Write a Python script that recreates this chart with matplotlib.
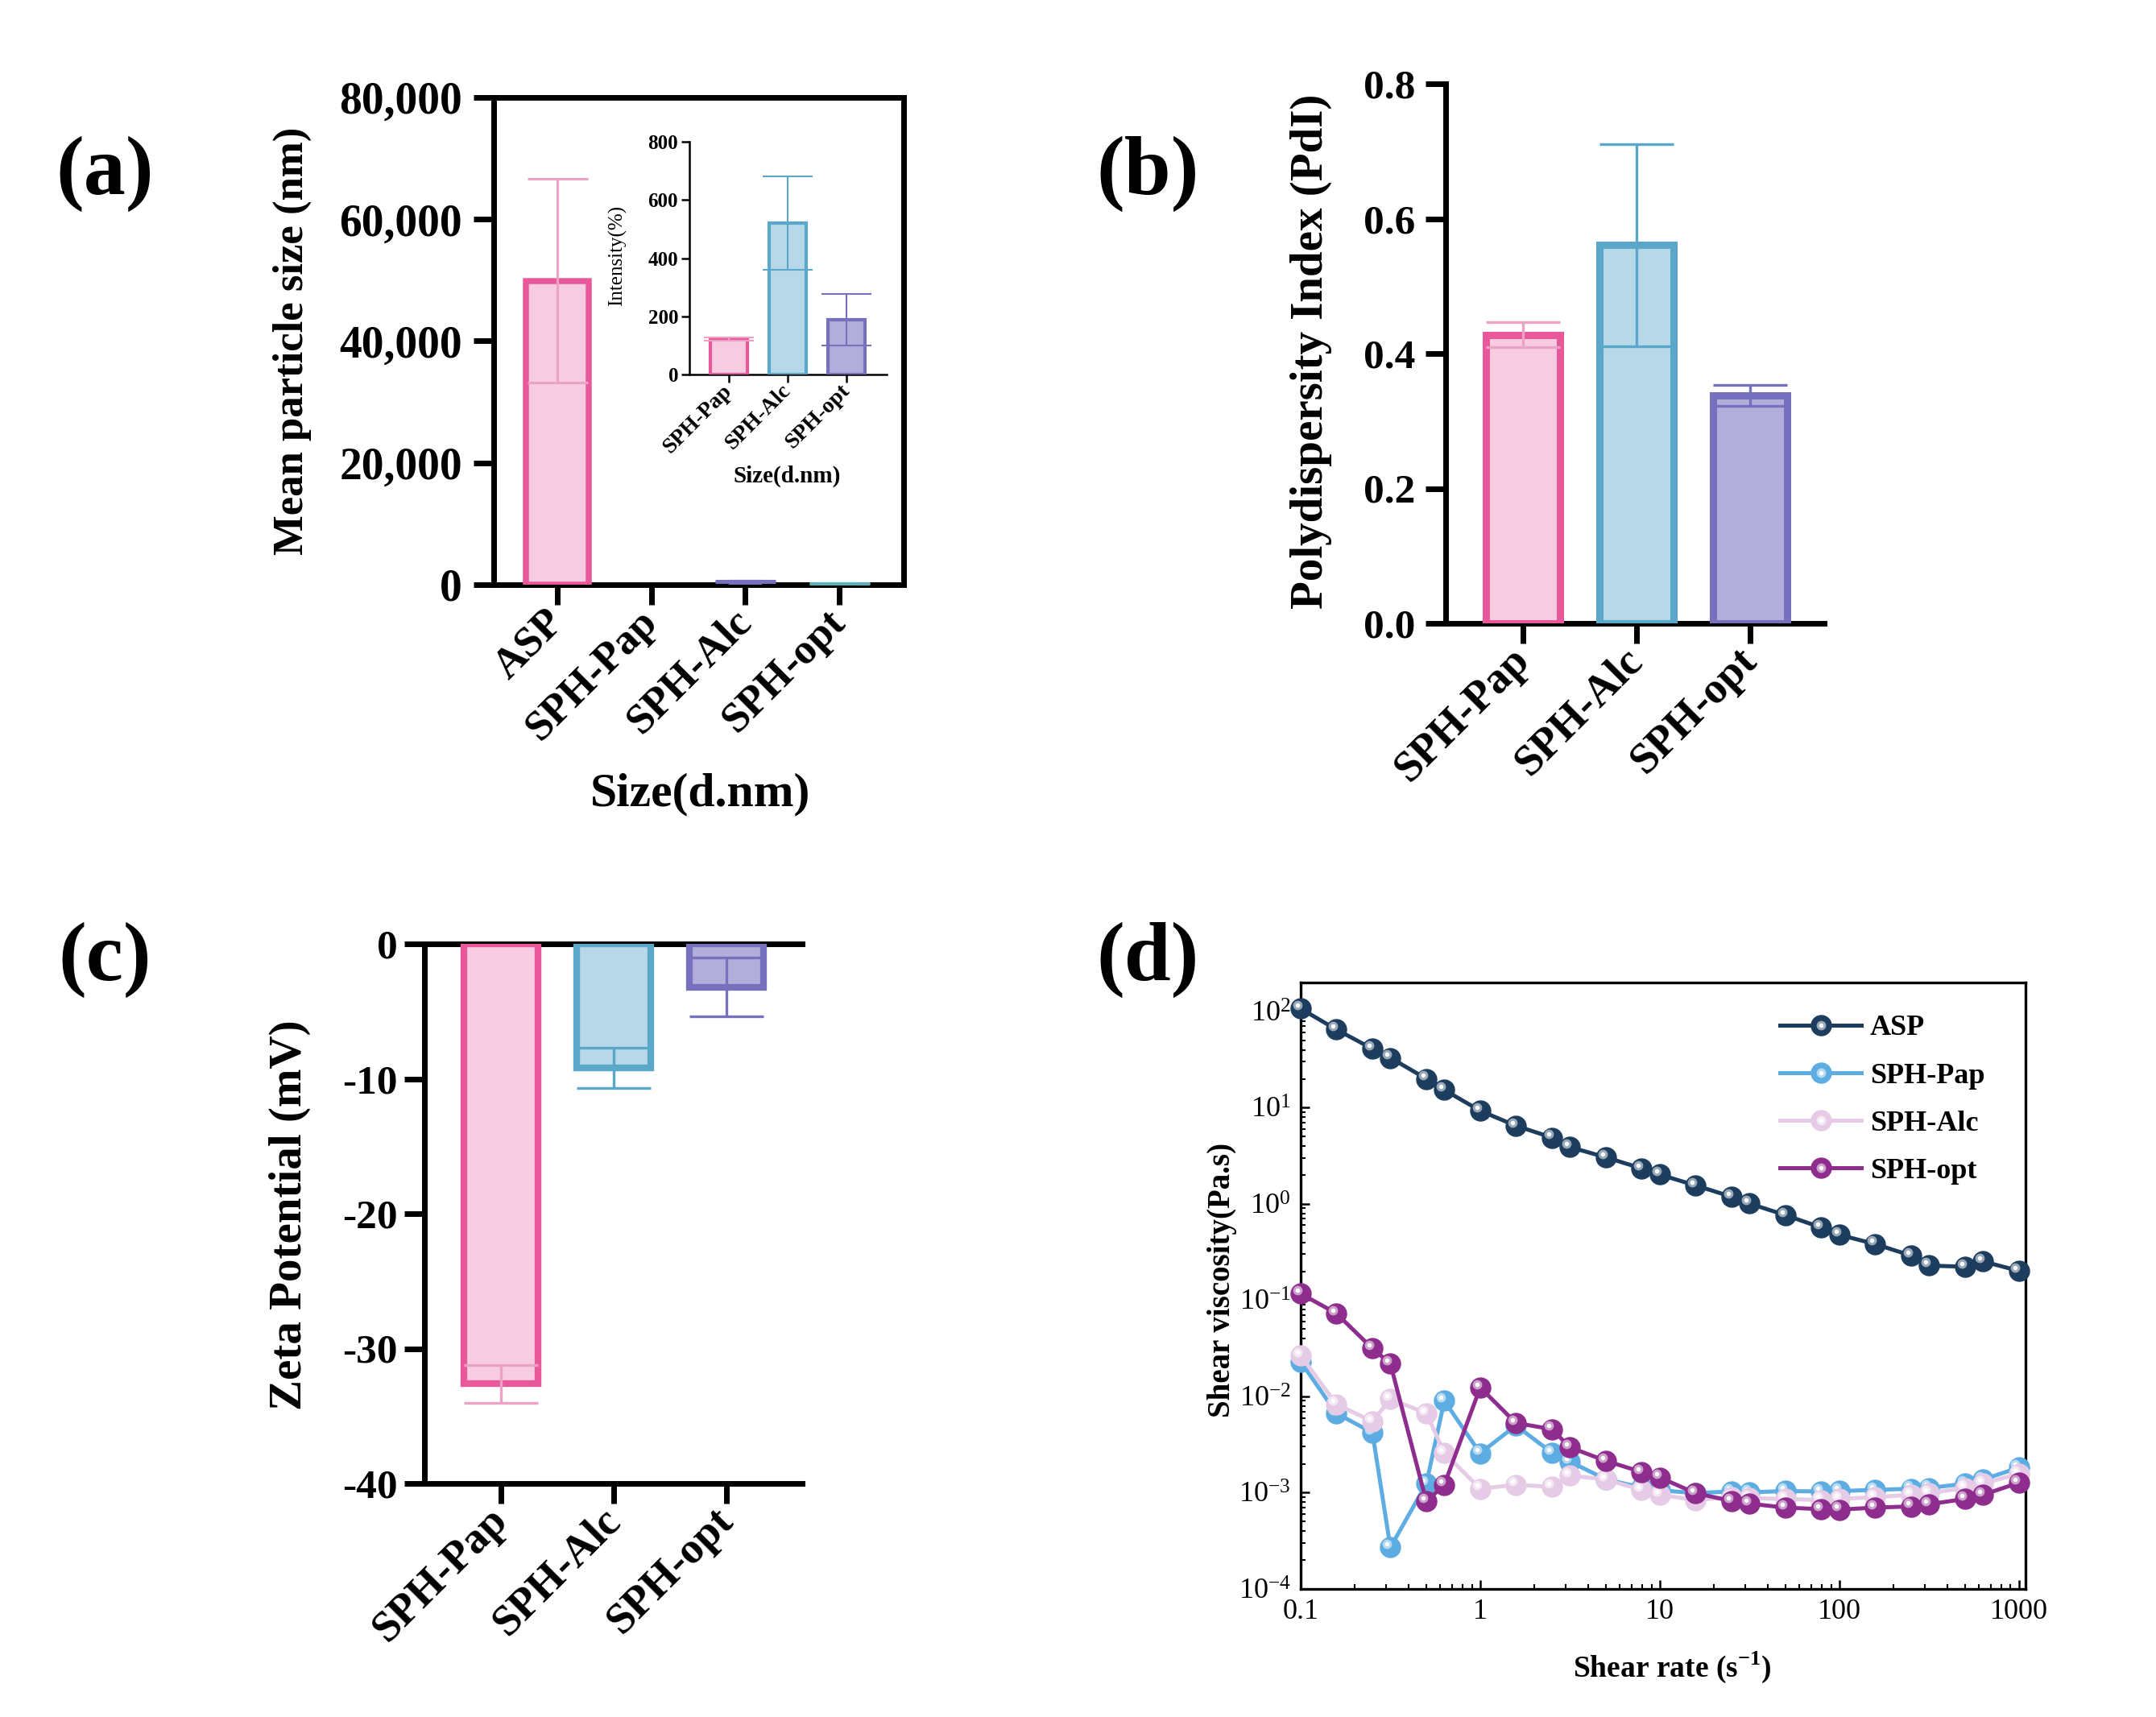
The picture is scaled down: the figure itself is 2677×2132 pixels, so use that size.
import numpy as np
import matplotlib
matplotlib.use('Agg')
import matplotlib.pyplot as plt
from matplotlib import ticker, transforms
from matplotlib.colors import to_rgb
from matplotlib.legend_handler import HandlerTuple

plt.rcParams['font.family'] = ['Liberation Serif', 'DejaVu Serif']
plt.rcParams['font.weight'] = 'bold'
plt.rcParams['axes.labelweight'] = 'bold'
plt.rcParams['axes.unicode_minus'] = False
plt.rcParams['mathtext.fontset'] = 'custom'
plt.rcParams['mathtext.rm'] = 'Liberation Serif'
plt.rcParams['mathtext.bf'] = 'Liberation Serif:bold'

# ---- data ----
# (a) mean particle size
size_cats = ['ASP', 'SPH-Pap', 'SPH-Alc', 'SPH-opt']
size_mean = [49900, 120, 520, 190]
size_err = [16700, 5, 160, 90]

# (a) inset, intensity
inset_cats = ['SPH-Pap', 'SPH-Alc', 'SPH-opt']
inset_mean = [122, 521, 188]
inset_err = [5, 161, 89]

# (b) PdI
sph_cats = ['SPH-Pap', 'SPH-Alc', 'SPH-opt']
pdi_mean = [0.428, 0.561, 0.338]
pdi_err = [0.018, 0.150, 0.016]

# (c) zeta potential
zeta_mean = [-32.6, -9.2, -3.2]
zeta_err = [1.4, 1.5, 2.2]

# (d) shear viscosity
shear_rate = [0.1, 0.158, 0.251, 0.316, 0.501, 0.631, 1.0, 1.58, 2.51, 3.16,
              5.01, 7.94, 10.0, 15.8, 25.1, 31.6, 50.1, 79.4, 100, 158,
              251, 316, 501, 631, 1000]
visc_asp = [107, 65, 41, 33, 20, 15.3, 9.3, 6.5, 4.9, 3.9,
            3.05, 2.34, 2.02, 1.56, 1.19, 1.01, 0.766, 0.569, 0.478, 0.384,
            0.291, 0.229, 0.223, 0.253, 0.202]
visc_pap = [0.023, 0.0067, 0.0042, 0.00027, 0.00124, 0.009, 0.00257, 0.0050, 0.0026, 0.0021,
            0.00138, 0.00113, 0.00106, 0.00099, 0.00103, 0.00101, 0.00104, 0.00103, 0.00104, 0.00107,
            0.0011, 0.00112, 0.00124, 0.00137, 0.00182]
visc_alc = [0.0266, 0.0083, 0.0055, 0.0094, 0.0067, 0.0026, 0.0011, 0.00121, 0.00115, 0.00151,
            0.00137, 0.00107, 0.00095, 0.00084, 0.0009, 0.00088, 0.00086, 0.00084, 0.00086, 0.0009,
            0.00095, 0.00099, 0.00112, 0.00124, 0.00158]
visc_opt = [0.117, 0.073, 0.0315, 0.0219, 0.00081, 0.00121, 0.0124, 0.0053, 0.00457, 0.00296,
            0.00214, 0.00164, 0.00144, 0.00099, 0.00082, 0.00077, 0.0007, 0.000675, 0.000667, 0.0007,
            0.00072, 0.00076, 0.00086, 0.00095, 0.00127]
visc_names = ['ASP', 'SPH-Pap', 'SPH-Alc', 'SPH-opt']
shear_ticks = [0.1, 1, 10, 100, 1000]
shear_tick_labels = ['0.1', '1', '10', '100', '1000']

# ---- colours ----
PINK_E, PINK_F, PINK_ERR = '#E8589B', '#F7CCE1', '#EBA2C5'
BLUE_E, BLUE_F = '#5AA7CA', '#B6D8E9'
PURP_E, PURP_F = '#7770BD', '#B1AEDA'
TEAL = '#5BB4B4'
VISC_COLORS = ['#1D3D5E', '#5DADE2', '#E6CBE6', '#8E2D8E']

W, H = 2677, 2132
fig = plt.figure(figsize=(W / 100, H / 100), dpi=100)


def px_axes(left, top, right, bottom):
    return fig.add_axes([left / W, 1 - bottom / H, (right - left) / W, (bottom - top) / H])


def style_bar_axes(ax, lw=5, tlen=18, ysize=34, xsize=36, ypad=9, xpad=8):
    for s in ax.spines.values():
        s.set_linewidth(lw)
    ax.tick_params(axis='both', direction='out', length=tlen, width=lw, color='black')
    ax.tick_params(axis='y', labelsize=ysize, pad=ypad)
    ax.tick_params(axis='x', labelsize=xsize, pad=xpad)
    for t in ax.get_xticklabels():
        t.set_rotation(45)
        t.set_ha('right')
        t.set_va('center')
        t.set_rotation_mode('anchor')


def draw_bars(ax, vals, errs, widths, faces, edges, ecols, lws, cap, elw, zs=None):
    x = np.arange(len(vals))
    if np.isscalar(widths):
        widths = [widths] * len(vals)
    if np.isscalar(lws):
        lws = [lws] * len(vals)
    if zs is None:
        zs = [3] * len(vals)
    for i in range(len(vals)):
        ax.bar(x[i], vals[i], widths[i], color=faces[i], edgecolor=edges[i],
               linewidth=lws[i], zorder=zs[i])
        ax.errorbar(x[i], vals[i], yerr=errs[i], fmt='none', ecolor=ecols[i],
                    elinewidth=elw, capsize=cap, capthick=elw, zorder=zs[i] + 0.5)
    return x


# ---------------- (a) ----------------
axa = px_axes(613, 121, 1122, 726)
xa = draw_bars(axa, size_mean, size_err, [0.67, 0.32, 0.32, 0.32],
               [PINK_F, PINK_F, PURP_F, TEAL], [PINK_E, PINK_E, PURP_E, TEAL],
               [PINK_ERR, PINK_ERR, PURP_E, TEAL], [5.4, 2.5, 3.0, 3.0], 27, 2.2,
               zs=[3, 1, 3, 3])
axa.set_xlim(-0.68, 3.69)
axa.set_ylim(0, 80000)
axa.set_yticks([0, 20000, 40000, 60000, 80000])
axa.yaxis.set_major_formatter(ticker.StrMethodFormatter('{x:,.0f}'))
axa.set_xticks(xa, size_cats)
style_bar_axes(axa, ysize=40, xsize=38, ypad=10, xpad=10)
axa.set_ylabel('Mean particle size (nm)', fontsize=38)
axa.yaxis.set_label_coords(-0.444, 0.5)
axa.set_xlabel('Size(d.nm)', fontsize=43)
axa.xaxis.set_label_coords(0.505, -0.385)

# inset
axi = px_axes(856, 176, 1101, 465)
xi = draw_bars(axi, inset_mean, inset_err, 0.63,
               [PINK_F, BLUE_F, PURP_F], [PINK_E, BLUE_E, PURP_E],
               [PINK_ERR, BLUE_E, PURP_E], 3.0, 22, 1.5)
axi.set_xlim(-0.67, 2.68)
axi.set_ylim(0, 800)
axi.set_yticks([0, 200, 400, 600, 800])
axi.set_xticks(xi, inset_cats)
axi.spines['top'].set_visible(False)
axi.spines['right'].set_visible(False)
style_bar_axes(axi, lw=1.8, tlen=7, ysize=18, xsize=20, ypad=3, xpad=5)
axi.set_ylabel('Intensity(%)', fontsize=18, fontweight='normal')
axi.yaxis.set_label_coords(-0.32, 0.51)
axi.set_xlabel('Size(d.nm)', fontsize=21)
axi.xaxis.set_label_coords(0.494, -0.39)

# ---------------- (b) ----------------
axb = px_axes(1795, 104, 2265, 774)
xb = draw_bars(axb, pdi_mean, pdi_err, 0.65,
               [PINK_F, BLUE_F, PURP_F], [PINK_E, BLUE_E, PURP_E],
               [PINK_ERR, BLUE_E, PURP_E], 6.5, 33, 2.4)
axb.set_xlim(-0.68, 2.65)
axb.set_ylim(0, 0.8)
axb.set_yticks([0.0, 0.2, 0.4, 0.6, 0.8])
axb.yaxis.set_major_formatter(ticker.StrMethodFormatter('{x:.1f}'))
axb.set_xticks(xb, sph_cats)
axb.spines['top'].set_visible(False)
axb.spines['right'].set_visible(False)
style_bar_axes(axb, ysize=37, xsize=39, ypad=9, xpad=10)
axb.set_ylabel('Polydispersity Index (PdI)', fontsize=41)
axb.yaxis.set_label_coords(-0.30, 0.504)

# ---------------- (c) ----------------
axc = px_axes(527, 1172, 996, 1842)
xc = draw_bars(axc, zeta_mean, zeta_err, 0.66,
               [PINK_F, BLUE_F, PURP_F], [PINK_E, BLUE_E, PURP_E],
               [PINK_ERR, BLUE_E, PURP_E], 6.0, 33, 2.4)
axc.set_xlim(-0.68, 2.67)
axc.set_ylim(-40, 0)
axc.set_yticks([-40, -30, -20, -10, 0])
axc.set_xticks(xc, sph_cats)
axc.spines['right'].set_visible(False)
style_bar_axes(axc, ysize=37, xsize=39, ypad=6, xpad=10)
axc.set_ylabel('Zeta Potential (mV)', fontsize=41)
axc.yaxis.set_label_coords(-0.30, 0.497)

# ---------------- (d) ----------------
axd = px_axes(1615, 1220, 2515, 1973)
axd.set_xscale('log')
axd.set_yscale('log')
hl_off = transforms.offset_copy(axd.transData, fig=fig, x=-3, y=3, units='points')
handles = []
for i, (vals, c) in enumerate(zip([visc_asp, visc_pap, visc_alc, visc_opt], VISC_COLORS)):
    light = tuple(0.45 * np.array(to_rgb(c)) + 0.55)
    ln, = axd.plot(shear_rate, vals, '-o', color=c, lw=3.6, ms=18, mec=c,
                   zorder=3 + i, clip_on=False)
    h1, = axd.plot(shear_rate, vals, 'o', ls='none', color=light, ms=8.5, mec='none',
                   transform=hl_off, zorder=3.3 + i, clip_on=False)
    h2, = axd.plot(shear_rate, vals, 'o', ls='none', color='white', ms=4, mec='none',
                   transform=hl_off, zorder=3.4 + i, clip_on=False)
    handles.append((ln, h1, h2))
axd.set_xlim(0.1, 1090)
axd.set_ylim(1e-4, 200)
axd.set_xticks(shear_ticks, shear_tick_labels)
axd.xaxis.set_minor_formatter(ticker.NullFormatter())
axd.yaxis.set_major_locator(ticker.LogLocator(base=10, numticks=12))
axd.yaxis.set_minor_locator(ticker.LogLocator(base=10, subs=np.arange(2, 10), numticks=12))
axd.yaxis.set_minor_formatter(ticker.NullFormatter())
for s in axd.spines.values():
    s.set_linewidth(2.4)
axd.tick_params(axis='both', which='major', direction='in', length=8, width=1.8,
                labelsize=26, pad=9)
axd.tick_params(axis='both', which='minor', direction='in', length=4.5, width=1.5)
for t in axd.get_xticklabels() + axd.get_yticklabels():
    t.set_fontweight('normal')
axd.set_ylabel('Shear viscosity(Pa.s)', fontsize=28)
axd.yaxis.set_label_coords(-0.088, 0.51)
axd.set_xlabel('Shear rate (s$^{-1}$)', fontsize=27)
axd.xaxis.set_label_coords(0.512, -0.10)
axd.legend(handles, visc_names, handler_map={tuple: HandlerTuple(ndivide=1)},
           loc='upper left', bbox_to_anchor=(2210 / W, 1 - 1260 / H),
           bbox_transform=fig.transFigure, frameon=False, handlelength=2.8,
           handletextpad=0.3, labelspacing=0.72, borderpad=0, borderaxespad=0,
           prop={'weight': 'bold', 'size': 26})

# panel letters
for lbl, (px, py) in zip(['(a)', '(b)', '(c)', '(d)'],
                         [(130, 216), (1425, 216), (130, 1192), (1425, 1192)]):
    fig.text(px / W, 1 - py / H, lbl, fontsize=75, fontweight='bold',
             ha='center', va='center')

fig.savefig('out.png', dpi=100, facecolor='white')
